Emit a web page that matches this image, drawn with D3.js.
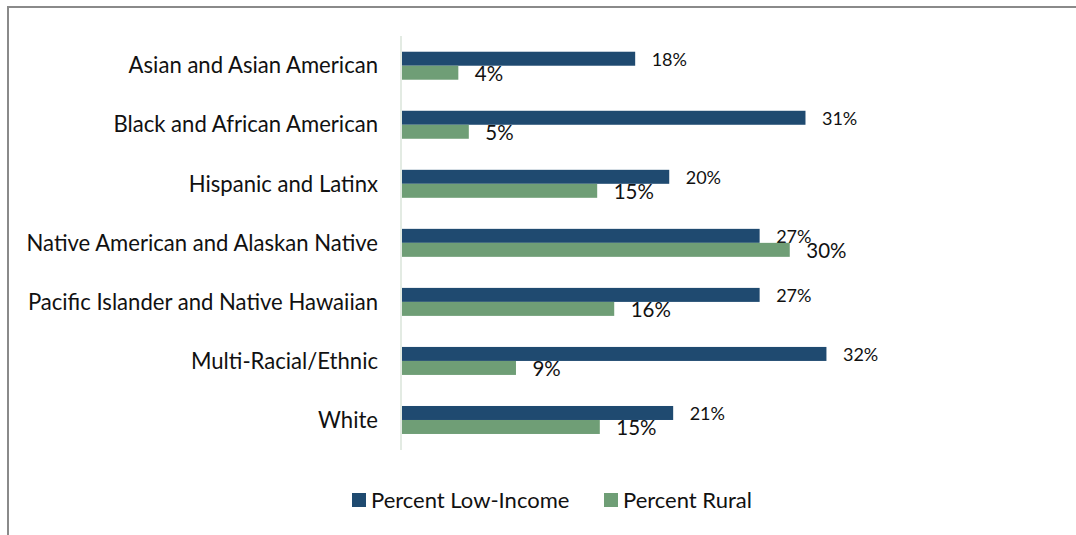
<!DOCTYPE html>
<html>
<head>
<meta charset="utf-8">
<script src="https://cdn.jsdelivr.net/npm/d3@7"></script>
<style>
    html, body { margin: 0; padding: 0; background: #fff; }
    svg { display: block; }
    text { font-family: "Lato", "Noto Sans", sans-serif; fill: #111; }
</style>
</head>
<body>
<script>
(function () {
    "use strict";

    // chart data
    var categories = [
        "Asian and Asian American",
        "Black and African American",
        "Hispanic and Latinx",
        "Native American and Alaskan Native",
        "Pacific Islander and Native Hawaiian",
        "Multi-Racial/Ethnic",
        "White"
    ];
    var lowIncome = [17.8, 30.8, 20.4, 27.3, 27.3, 32.4, 20.7];
    var rural = [4.3, 5.1, 14.9, 29.6, 16.2, 8.7, 15.1];
    var seriesNames = ["Percent Low-Income", "Percent Rural"];
    var seriesColors = ["#1f4a70", "#6f9e76"];

    var width = 1076, height = 535;

    var svg = d3.select("body").append("svg")
        .attr("width", width)
        .attr("height", height);

    // chart border (only top and left edges are in view)
    svg.append("rect")
        .attr("x", 8)
        .attr("y", 7)
        .attr("width", 1200)
        .attr("height", 700)
        .attr("fill", "none")
        .attr("stroke", "#8a8a8a")
        .attr("stroke-width", 2);

    var x = d3.scaleLinear()
        .domain([0, 50])
        .range([402, 402 + 13.1 * 50]);

    var y = d3.scaleBand()
        .domain(categories)
        .range([36.2, 449.5])
        .paddingInner(0.526)
        .paddingOuter(0.263);

    var ySub = d3.scaleBand()
        .domain([0, 1])
        .range([0, y.bandwidth()]);

    // category axis line
    svg.append("line")
        .attr("x1", 401).attr("x2", 401)
        .attr("y1", 36).attr("y2", 450)
        .attr("stroke", "#e3ebe3")
        .attr("stroke-width", 2);

    // category labels
    svg.append("g").selectAll("text")
        .data(categories)
        .enter().append("text")
        .attr("x", 378)
        .attr("y", function (d) { return y(d) + y.bandwidth() / 2; })
        .attr("dy", "0.35em")
        .attr("text-anchor", "end")
        .style("font-size", "22.1px")
        .text(function (d) { return d; });

    var series = [lowIncome, rural];
    var labelSizes = ["18px", "20.5px"];

    series.forEach(function (values, s) {
        var g = svg.append("g");
        var rows = values.map(function (v, i) { return {cat: categories[i], value: v}; });

        g.selectAll("rect")
            .data(rows)
            .enter().append("rect")
            .attr("x", x(0))
            .attr("y", function (d) { return y(d.cat) + ySub(s); })
            .attr("width", function (d) { return x(d.value) - x(0); })
            .attr("height", ySub.bandwidth())
            .attr("fill", seriesColors[s]);

        g.selectAll("text")
            .data(rows)
            .enter().append("text")
            .attr("x", function (d) { return x(d.value) + 16.5; })
            .attr("y", function (d) { return y(d.cat) + ySub(s) + ySub.bandwidth() / 2 + 1; })
            .attr("dy", "0.35em")
            .style("font-size", labelSizes[s])
            .text(function (d) { return Math.round(d.value) + "%"; });
    });

    // legend
    var legendX = [352, 604];
    var legend = svg.append("g").selectAll("g")
        .data(seriesNames)
        .enter().append("g")
        .attr("transform", function (d, i) { return "translate(" + legendX[i] + ",493)"; });

    legend.append("rect")
        .attr("width", 14)
        .attr("height", 14)
        .attr("fill", function (d, i) { return seriesColors[i]; });

    legend.append("text")
        .attr("x", 19)
        .attr("y", 7)
        .attr("dy", "0.35em")
        .style("font-size", "22px")
        .text(function (d) { return d; });
})();
</script>
</body>
</html>
